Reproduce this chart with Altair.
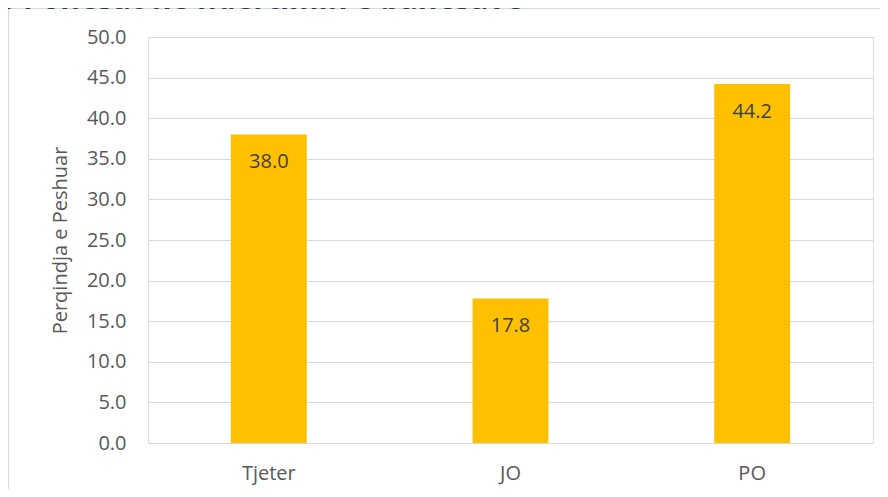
import altair as alt
import pandas as pd

categories = ["Tjeter", "JO", "PO"]
values = [38.0, 17.8, 44.2]
y_ticks = [0, 5, 10, 15, 20, 25, 30, 35, 40, 45, 50]
title_text = "1 Ponesat ne ndertimin e banesave"
y_title = "Perqindja e Peshuar"

df = pd.DataFrame({"cat": categories, "val": values})
FONT = "Open Sans"

base = alt.Chart(df)

x_enc = alt.X(
    "cat:N",
    sort=categories,
    scale=alt.Scale(paddingInner=0.686, paddingOuter=0.343),
    axis=alt.Axis(
        title=None, labelAngle=0, domain=False, ticks=False, labelPadding=20,
        labelFont=FONT, labelFontSize=20, labelColor="#595959", grid=False,
    ),
)
y_enc = alt.Y(
    "val:Q",
    scale=alt.Scale(domain=[0, 50], nice=False),
    axis=alt.Axis(
        values=y_ticks, format=".1f", title=y_title, domain=False, ticks=False,
        labelPadding=22, labelFont=FONT, labelFontSize=20, labelColor="#595959",
        titleFont=FONT, titleFontSize=20, titleFontWeight="normal", titleColor="#595959",
        titlePadding=16, grid=True, gridColor="#d9d9d9", gridWidth=1.2,
    ),
)

bars = base.mark_bar(color="#FFC000").encode(x=x_enc, y=y_enc)

labels = base.mark_text(
    baseline="middle", dy=28, font=FONT, fontSize=20, color="#404040"
).encode(
    x=alt.X("cat:N", sort=categories),
    y=alt.Y("val:Q"),
    text=alt.Text("val:Q", format=".1f"),
)

one = pd.DataFrame({"k": [0]})
frame_left = alt.Chart(one).mark_rule(
    stroke="#d9d9d9", strokeWidth=1.2, clip=False
).encode(x=alt.value(-139.5), y=alt.value(-28.5), y2=alt.value(452))
frame_top = alt.Chart(one).mark_rule(
    stroke="#d9d9d9", strokeWidth=1.2, clip=False
).encode(x=alt.value(-139.5), x2=alt.value(732), y=alt.value(-28.5))

title = alt.Chart(pd.DataFrame({"t": [title_text]})).mark_text(
    align="left", baseline="alphabetic", font=FONT, fontSize=30,
    fontWeight="bold", color="#1F3864", clip=False
).encode(
    text="t:N", x=alt.value(-150), y=alt.value(-28)
)

chart = alt.layer(frame_left, frame_top, bars, labels, title).properties(
    width=725,
    height=406,
    padding={"left": 140, "top": 29, "right": 7, "bottom": 46},
    autosize="none",
).configure_view(stroke=None).configure(background="white")

chart.save("out.html", embed_options={"renderer": "svg", "actions": False})
